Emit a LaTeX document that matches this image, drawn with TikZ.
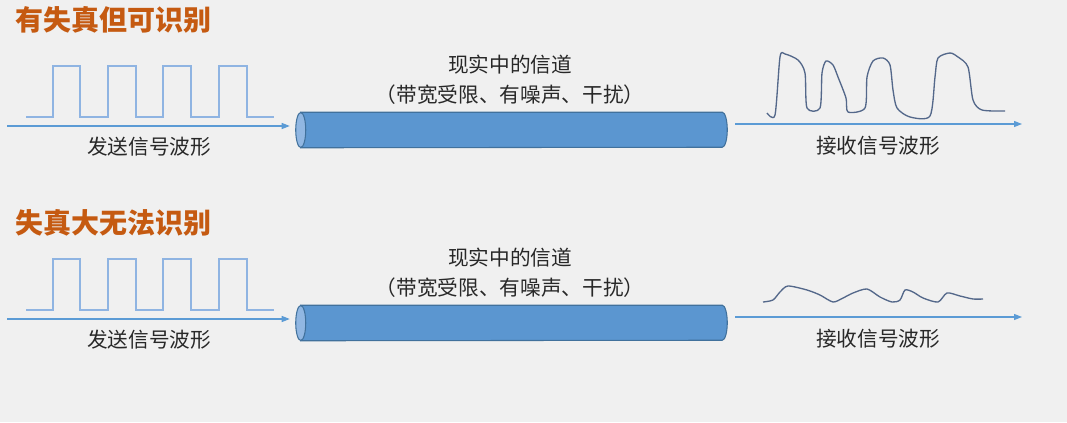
\documentclass[tikz,border=0pt]{standalone}
\usepackage{fontspec}
\setmainfont{Noto Sans CJK SC}
\usetikzlibrary{shapes.geometric,arrows.meta,positioning}
\definecolor{bgGray}     {RGB}{240,240,240}
\definecolor{titleOrange}{RGB}{197,90,17}
\definecolor{waveBlue}   {RGB}{143,180,226}
\definecolor{axisBlue}   {RGB}{91,155,213}
\definecolor{pipeFill}   {RGB}{91,150,208}
\definecolor{pipeEnd}    {RGB}{145,183,226}
\definecolor{pipeEdge}   {RGB}{65,113,156}
\definecolor{rxLine}     {RGB}{84,104,138}
\definecolor{txtGray}    {RGB}{40,40,40}

\begin{document}
\begin{tikzpicture}[x=0.75pt, y=-0.75pt,
      title/.style={font=\fontsize{21}{24}\selectfont\bfseries, text=titleOrange,
                    anchor=west, inner sep=0pt},
      lbl/.style={font=\fontsize{15.5}{18}\selectfont, text=txtGray, inner sep=0pt},
      pipe/.style={rectangle, minimum width=323.25pt, minimum height=26.25pt, inner sep=0pt},
      pipebody/.style={fill=pipeFill, draw=pipeEdge, line width=0.8pt},
      pipeface/.style={fill=pipeEnd, draw=pipeEdge, line width=0.8pt},
      sqwave/.style={draw=waveBlue, line width=1.1pt},
      rxwave/.style={draw=rxLine, line width=1pt, line join=round},
      axis/.style={-{Triangle[length=6pt, width=4.5pt]}, draw=axisBlue, line width=0.9pt}]

    % background and page size
    \fill[bgGray] (0,0) rectangle (1067,422);
    \useasboundingbox (0,0) rectangle (1067,422);

    \node[title] (t0) at (15,20)  {有失真但可识别};
    \node[title] (t1) at (15,223) {失真大无法识别};

    % the parts both rows share
    \foreach \row/\dy in {0/0, 1/193} {
      \begin{scope}[yshift=-\dy*0.75pt]
        \draw[sqwave] (26,117) -| (53,66) -| (80,117) -| (108,66) -| (136,117)
                      -| (163,66) -| (191,117) -| (219,66) -| (247,117) -- (274,117);
        \coordinate (txStart\row) at (7,126);
        \coordinate (rxEnd\row) at (1022,124);
        \node[pipe] (pipe\row) at (511.5,130) {};
        % the pipe: body, then the visible end face
        \draw[pipebody] ([xshift=3.75pt]pipe\row.north west)
              -- ([xshift=-3.75pt]pipe\row.north east)
              arc[start angle=90, end angle=-90, x radius=3.75pt, y radius=13.125pt]
              -- ([xshift=3.75pt]pipe\row.south west) -- cycle;
        \draw[pipeface] ([xshift=3.75pt]pipe\row.west)
              ellipse[x radius=3.75pt, y radius=13.125pt];
        \node[lbl] (ch2\row) at (510,95) {（带宽受限、有噪声、干扰）};
        \node[lbl, above=8pt of ch2\row] (ch1\row) {现实中的信道};
        \node[lbl] (tx\row) at (149,147) {发送信号波形};
        \node[lbl] (rx\row) at (878,146) {接收信号波形};
        \draw[axis, shorten >=4.5pt] (txStart\row) -- (txStart\row -| pipe\row.west);
        \draw[axis, shorten <=6pt] (pipe\row.east |- rxEnd\row) -- (rxEnd\row);
      \end{scope}
    }

    % received waveforms
    \draw[rxwave] plot[smooth, tension=0.45] coordinates {
      (767,113) (775,115) (780,57) (785,54) (798,60) (805,73) (807,108)
      (820,108) (822,73) (826,61) (833,65) (838,77) (846,98) (848,112)
      (865,108) (867,77) (873,61) (883,58) (890,65) (893,90) (897,108)
      (910,117) (930,116) (935,77) (938,58) (950,53) (958,57) (968,67)
      (973,100) (982,110) (1005,111)};
    \draw[rxwave] plot[smooth, tension=0.45] coordinates {
      (763,302) (773,300) (780,292) (788,286) (807,290) (820,295) (833,302)
      (843,298) (853,293) (867,289) (880,297) (892,302) (900,300) (905,290)
      (913,292) (923,298) (938,302) (947,293) (960,296) (973,299) (983,299)};
  \end{tikzpicture}
\end{document}
